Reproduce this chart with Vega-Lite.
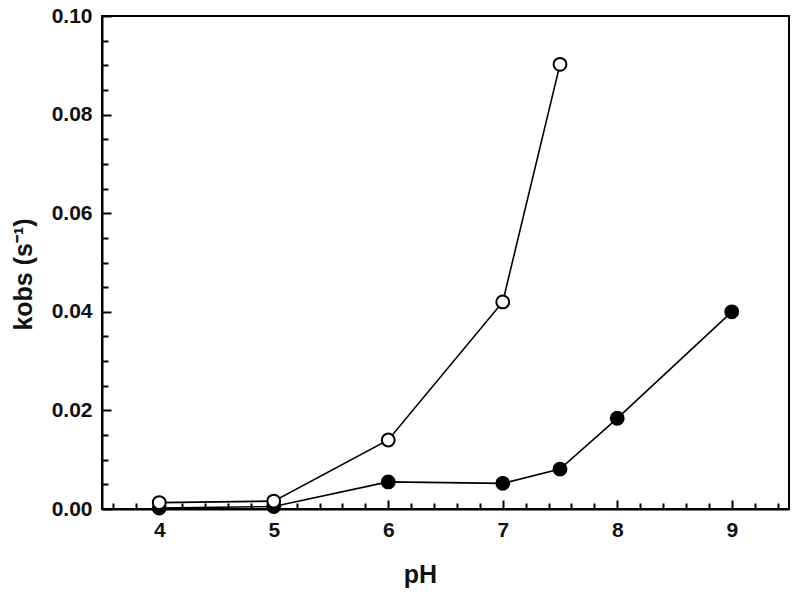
{
  "$schema": "https://vega.github.io/schema/vega-lite/v6.json",
  "width": 687,
  "height": 493,
  "autosize": {"type": "none"},
  "padding": {"left": 102, "top": 16, "right": 11, "bottom": 90},
  "background": "white",
  "config": {
    "view": {"stroke": "black", "strokeWidth": 2},
    "font": "Liberation Sans",
    "axis": {
      "domainColor": "black", "domainWidth": 2,
      "tickColor": "black", "tickWidth": 2,
      "labelFont": "Liberation Sans", "labelFontWeight": "bold", "labelFontSize": 21, "labelColor": "#111111",
      "titleFont": "Liberation Sans", "titleFontWeight": "bold", "titleFontSize": 25, "titleColor": "#111111",
      "grid": false
    }
  },
  "data": {"values": [
    {"pH": 4, "k": 0.0002, "series": "filled"},
    {"pH": 5, "k": 0.0005, "series": "filled"},
    {"pH": 6, "k": 0.0055, "series": "filled"},
    {"pH": 7, "k": 0.0052, "series": "filled"},
    {"pH": 7.5, "k": 0.0081, "series": "filled"},
    {"pH": 8, "k": 0.0184, "series": "filled"},
    {"pH": 9, "k": 0.0400, "series": "filled"},
    {"pH": 4, "k": 0.0013, "series": "open"},
    {"pH": 5, "k": 0.0016, "series": "open"},
    {"pH": 6, "k": 0.0140, "series": "open"},
    {"pH": 7, "k": 0.0420, "series": "open"},
    {"pH": 7.5, "k": 0.0902, "series": "open"}
  ]},
  "resolve": {"axis": {"x": "independent", "y": "independent"}},
  "layer": [
    {
      "mark": {"type": "line", "color": "black", "strokeWidth": 1.6},
      "encoding": {
        "x": {"field": "pH", "type": "quantitative",
          "scale": {"domain": [3.5, 9.5], "nice": false, "zero": false},
          "axis": {"orient": "bottom", "title": "pH", "values": [4, 5, 6, 7, 8, 9], "format": "d", "tickSize": -9, "labelPadding": 19, "titlePadding": 22, "titleX": 318}},
        "y": {"field": "k", "type": "quantitative",
          "scale": {"domain": [0, 0.1], "nice": false},
          "axis": {"orient": "left", "title": "kobs (s⁻¹)", "values": [0, 0.02, 0.04, 0.06, 0.08, 0.1], "format": ".2f", "tickSize": -9, "labelPadding": 19, "titlePadding": 15, "titleY": 258}},
        "detail": {"field": "series"}
      }
    },
    {
      "mark": {"type": "point", "shape": "circle", "size": 165, "stroke": "black", "strokeWidth": 2, "opacity": 1},
      "encoding": {
        "x": {"field": "pH", "type": "quantitative",
          "axis": {"orient": "bottom", "title": null, "labels": false, "domain": false, "values": [3.6, 3.8, 4.2, 4.4, 4.6, 4.8, 5.2, 5.4, 5.6, 5.8, 6.2, 6.4, 6.6, 6.8, 7.2, 7.4, 7.6, 7.8, 8.2, 8.4, 8.6, 8.8, 9.2, 9.4], "tickSize": -6}},
        "y": {"field": "k", "type": "quantitative",
          "axis": {"orient": "left", "title": null, "labels": false, "domain": false, "values": [0.005, 0.01, 0.015, 0.025, 0.03, 0.035, 0.045, 0.05, 0.055, 0.065, 0.07, 0.075, 0.085, 0.09, 0.095], "tickSize": -6}},
        "fill": {"field": "series", "type": "nominal", "scale": {"domain": ["open", "filled"], "range": ["white", "black"]}, "legend": null}
      }
    }
  ]
}
